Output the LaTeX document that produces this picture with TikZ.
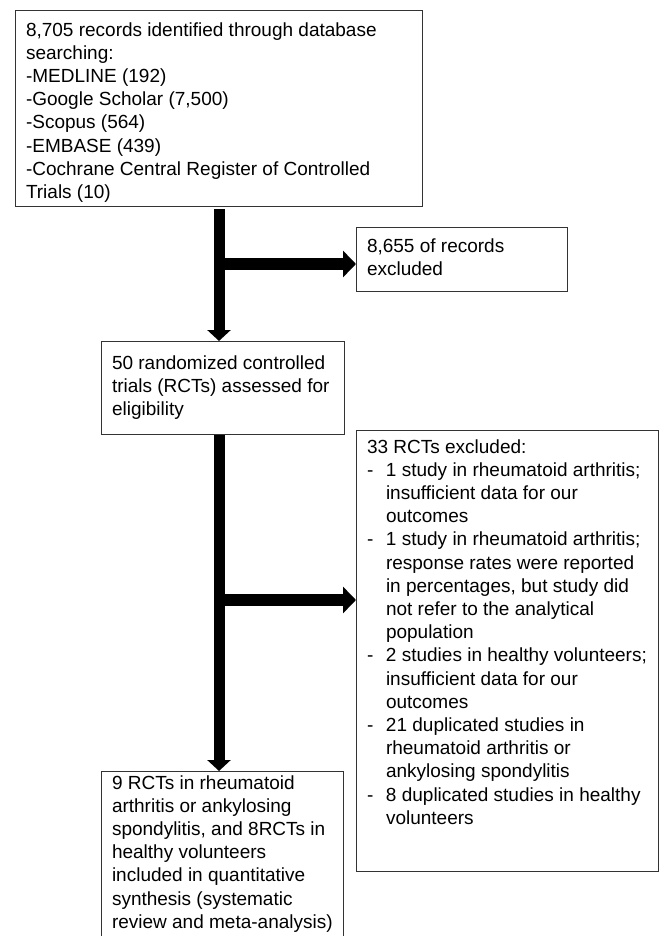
\documentclass[tikz,border=0pt]{standalone}
\usepackage{fontspec}
\setmainfont{Liberation Sans}
\usetikzlibrary{arrows.meta,calc}
\newcommand{\dashitem}{\makebox[19pt][l]{-}}
\newcommand{\indentline}{\hspace*{19pt}}
\begin{document}
\begin{tikzpicture}[x=1pt,y=1pt,
  box/.style={draw=black!80, line width=1pt, inner sep=0pt, anchor=north west},
  txt/.style={anchor=north west, inner sep=0pt, outer sep=0pt, align=left, font=\fontsize{19}{23.2}\selectfont},
  vflow/.style={line width=11pt, -{Triangle[width=23pt,length=11pt]}},
  hflow/.style={line width=12pt, -{Triangle[width=26pt,length=13pt]}}]
\useasboundingbox (0,0) rectangle (661,-936);
\fill[white] (0,0) rectangle (661,-936);
% boxes
\node[box, minimum width=407pt, minimum height=196pt] (A) at (15,-10) {};
\node[box, minimum width=211pt, minimum height=64pt] (B) at (356,-227) {};
\node[box, minimum width=243pt, minimum height=93pt] (C) at (101,-341) {};
\node[box, minimum width=302pt, minimum height=441pt] (D) at (356,-430) {};
\node[box, minimum width=242pt, minimum height=180pt] (E) at (101,-771) {};
% texts
\node[txt] (tA) at (26,-19.8) {\strut 8,705 records identified through database\\
searching:\\
-MEDLINE (192)\\
-Google Scholar (7,500)\\
-Scopus (564)\\
-EMBASE (439)\\
-Cochrane Central Register of Controlled\\
Trials (10)};
\node[txt] (tB) at (367,-235.8) {\strut 8,655 of records\\excluded};
\node[txt] (tC) at (112,-352.8) {\strut 50 randomized controlled\\
trials (RCTs) assessed for\\
eligibility};
\node[txt] (tD) at (367,-436.8) {\strut 33 RCTs excluded:\\
\dashitem 1 study in rheumatoid arthritis;\\
\indentline insufficient data for our\\
\indentline outcomes\\
\dashitem 1 study in rheumatoid arthritis;\\
\indentline response rates were reported\\
\indentline in percentages, but study did\\
\indentline not refer to the analytical\\
\indentline population\\
\dashitem 2 studies in healthy volunteers;\\
\indentline insufficient data for our\\
\indentline outcomes\\
\dashitem 21 duplicated studies in\\
\indentline rheumatoid arthritis or\\
\indentline ankylosing spondylitis\\
\dashitem 8 duplicated studies in healthy\\
\indentline volunteers};
\node[txt] (tE) at (112,-772.8) {\strut 9 RCTs in rheumatoid\\
arthritis or ankylosing\\
spondylitis, and 8RCTs in\\
healthy volunteers\\
included in quantitative\\
synthesis (systematic\\
review and meta-analysis)};
% connectors
\coordinate (j1) at (218.5,-264);
\coordinate (j2) at (218.5,-600);
\draw[vflow, shorten <=2pt] (A.south) -- (A.south |- C.north);
\draw[hflow] (j1) -- (j1 -| B.west);
\draw[vflow] (A.south |- C.south) -- (A.south |- E.north);
\draw[hflow] (j2) -- (j2 -| D.west);
\end{tikzpicture}
\end{document}
